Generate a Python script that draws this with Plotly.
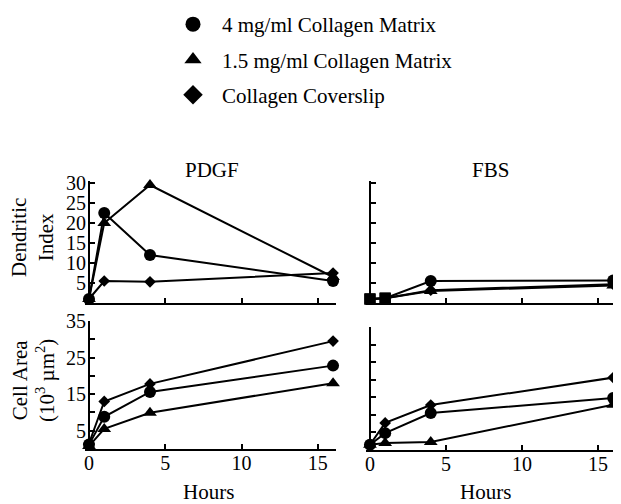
import plotly.graph_objects as go

# ---- data ----
hours = [0, 1, 4, 16]
series_names = ["4 mg/ml Collagen Matrix", "1.5 mg/ml Collagen Matrix", "Collagen Coverslip"]

pdgf_dendritic_4mg = [1, 22.5, 12, 5.5]
pdgf_dendritic_15mg = [1, 20, 29.5, 6.5]
pdgf_dendritic_cover = [1, 5.5, 5.3, 7.5]

fbs_dendritic_4mg = [1, 1.2, 5.5, 5.6]
fbs_dendritic_15mg = [1, 1.2, 3.0, 4.4]
fbs_dendritic_cover = [1, 1.2, 3.2, 4.7]

pdgf_area_4mg = [1.2, 8.8, 15.6, 22.8]
pdgf_area_15mg = [0.8, 5.5, 9.9, 18.0]
pdgf_area_cover = [1.5, 13.0, 17.8, 29.5]

fbs_area_4mg = [1.5, 4.8, 10.5, 14.8]
fbs_area_15mg = [1.5, 2.0, 2.3, 12.9]
fbs_area_cover = [1.5, 7.7, 12.8, 20.6]

panel_titles = ["PDGF", "FBS"]
y_titles = ["Dendritic<br>Index", "Cell Area<br>(10<sup>3</sup> µm<sup>2</sup>)"]
x_title = "Hours"
x_ticks = [0, 5, 10, 15]
dendritic_ticks = [5, 10, 15, 20, 25, 30]
area_ticks = [0, 5, 10, 15, 20, 25, 30, 35]
area_ticktext = ["", "5", "", "15", "", "25", "", "35"]

# ---- styling ----
FONT = "Liberation Serif, Times New Roman, serif"
# the page body adds an 8 px margin; the figure is sized/offset to compensate
PAGE_OFF = 8
W, H = 621 - PAGE_OFF, 504 - PAGE_OFF
symbols = ["circle", "triangle-up", "diamond"]
sizes = [12, 12, 9]
draw_order = [2, 1, 0]  # coverslip first, so circles/triangles sit on top

fig = go.Figure()

panels = [
    ("x", "y", [pdgf_dendritic_4mg, pdgf_dendritic_15mg, pdgf_dendritic_cover], False),
    ("x2", "y2", [fbs_dendritic_4mg, fbs_dendritic_15mg, fbs_dendritic_cover], True),
    ("x3", "y3", [pdgf_area_4mg, pdgf_area_15mg, pdgf_area_cover], False),
    ("x4", "y4", [fbs_area_4mg, fbs_area_15mg, fbs_area_cover], False),
]

for xa, ya, ys, squares_early in panels:
    for i in draw_order:
        vals = ys[i]
        if squares_early:
            sym = ["square", "square", symbols[i], symbols[i]]
            sz = [11, 11, sizes[i], sizes[i]]
        else:
            sym = symbols[i]
            sz = sizes[i]
        fig.add_trace(go.Scatter(
            x=hours, y=vals, xaxis=xa, yaxis=ya, mode="lines+markers",
            line=dict(color="black", width=2),
            marker=dict(symbol=sym, size=sz, color="black", opacity=1,
                        line=dict(width=0, color="black")),
            showlegend=False, cliponaxis=False, hoverinfo="skip",
        ))

# legend-only entries
for i, name in enumerate(series_names):
    fig.add_trace(go.Scatter(
        x=[None], y=[None], mode="markers", name=name,
        marker=dict(symbol=symbols[i], size=15, color="black"),
        legendgroup=name, showlegend=True,
    ))

def px_x(p):
    return (p - PAGE_OFF) / W

def px_y(p):
    return 1 - (p - PAGE_OFF) / H

xrange = [-0.28, 16.2]
xdom_left = [px_x(84.7), px_x(336.1)]
xdom_right = [px_x(365.7), px_x(616.2)]
yaxis_left_pos = px_x(89)
yaxis_right_pos = px_x(370)
ydom_top = [px_y(303), px_y(181)]
ydom_bl = [px_y(449), px_y(321)]
ydom_br = [px_y(450), px_y(327)]

axis_common = dict(showline=True, linecolor="black", linewidth=2, ticks="inside",
                   ticklen=5, tickwidth=1.5, tickcolor="black", showgrid=False,
                   zeroline=False, automargin=False,
                   tickfont=dict(family=FONT, size=20, color="black"))
xa_style = dict(axis_common, ticklabelstandoff=-5, range=xrange, tickvals=x_ticks)
ya_style = dict(axis_common, ticklabelstandoff=-2, anchor="free")

fig.update_layout(
    xaxis=dict(domain=xdom_left, anchor="y", showticklabels=False, **xa_style),
    yaxis=dict(domain=ydom_top, position=yaxis_left_pos, range=[0, 30.5], tickvals=dendritic_ticks, **ya_style),
    xaxis2=dict(domain=xdom_right, anchor="y2", showticklabels=False, **xa_style),
    yaxis2=dict(domain=ydom_top, position=yaxis_right_pos, range=[0, 30.5], tickvals=dendritic_ticks,
                showticklabels=False, **ya_style),
    xaxis3=dict(domain=xdom_left, anchor="y3", **xa_style),
    yaxis3=dict(domain=ydom_bl, position=yaxis_left_pos, range=[0, 35], tickvals=area_ticks,
                ticktext=area_ticktext, **ya_style),
    xaxis4=dict(domain=xdom_right, anchor="y4", **xa_style),
    yaxis4=dict(domain=ydom_br, position=yaxis_right_pos, range=[0, 35], tickvals=area_ticks,
                showticklabels=False, **ya_style),
)

def label(text, x, y, angle=0, size=21):
    return dict(text=text, x=px_x(x), y=px_y(y), xref="paper", yref="paper", showarrow=False,
                xanchor="center", yanchor="middle", textangle=angle,
                font=dict(family=FONT, size=size, color="black"))

ann = [
    label(panel_titles[0], 212, 170),
    label(panel_titles[1], 490, 170),
    label(y_titles[0], 33, 238, angle=-90),
    label(y_titles[1], 33, 381, angle=-90),
    label(x_title, 208, 492),
    label(x_title, 485, 492),
]

fig.update_layout(
    width=W, height=H,
    margin=dict(l=0, r=0, t=0, b=0, autoexpand=False),
    paper_bgcolor="white", plot_bgcolor="white",
    annotations=ann,
    legend=dict(x=px_x(164), y=px_y(4), xanchor="left", yanchor="top",
                font=dict(family=FONT, size=21, color="black"),
                tracegroupgap=5, traceorder="grouped", bgcolor="rgba(0,0,0,0)",
                itemsizing="trace", itemwidth=48),
    showlegend=True,
)

fig.write_html("out.html")
